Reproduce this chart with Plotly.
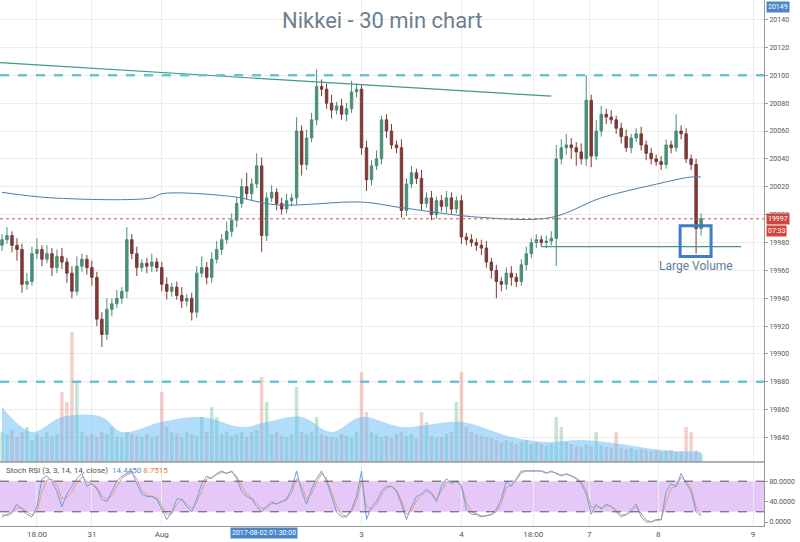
import plotly.graph_objects as go

# ---- data (30 min candles, index = bar number) ----
closes = [19982, 19985, 19978, 19975, 19950, 19952, 19972, 19975, 19968, 19972,
          19962, 19970, 19966, 19958, 19945, 19963, 19968, 19962, 19955, 19925,
          19914, 19932, 19936, 19940, 19945, 19982, 19972, 19962, 19965, 19963,
          19966, 19962, 19950, 19945, 19948, 19942, 19938, 19940, 19930, 19958,
          19962, 19955, 19968, 19975, 19982, 19988, 19996, 20008, 20020, 20015,
          20022, 20035, 19985, 20012, 20016, 20008, 20004, 20010, 20012, 20060,
          20036, 20055, 20068, 20092, 20090, 20080, 20075, 20078, 20072, 20076,
          20088, 20090, 20048, 20025, 20035, 20040, 20068, 20060, 20050, 20048,
          20003, 20022, 20030, 20026, 20008, 20012, 20000, 20010, 20006, 20012,
          20004, 20010, 19984, 19982, 19980, 19978, 19976, 19966, 19960, 19952,
          19950, 19958, 19955, 19952, 19964, 19972, 19980, 19982, 19980, 19981,
          19983, 20040, 20048, 20050, 20048, 20045, 20040, 20082, 20042, 20060,
          20072, 20070, 20068, 20062, 20056, 20048, 20055, 20058, 20050, 20044,
          20040, 20038, 20036, 20050, 20048, 20060, 20058, 20040, 20036, 19990,
          19997]
first_open = 19978
hi_wick = [4, 6, 3, 5, 4, 6, 5, 8, 3, 6, 4, 5, 6, 3, 5, 7, 4, 3, 5, 4,
           5, 8, 4, 6, 3, 9, 4, 5, 3, 4, 6, 3, 4, 5, 3, 4, 6, 3, 4, 5,
           8, 4, 5, 6, 4, 7, 5, 4, 6, 10, 4, 9, 6, 4, 5, 3, 4, 5, 3, 10,
           4, 6, 5, 12, 5, 4, 6, 3, 5, 4, 8, 4, 3, 5, 4, 6, 3, 4, 5, 3,
           6, 4, 5, 3, 6, 4, 5, 3, 4, 5, 4, 3, 4, 3, 4, 3, 4, 5, 3, 4,
           3, 4, 5, 3, 4, 5, 3, 4, 3, 4, 5, 10, 6, 8, 5, 4, 6, 18, 4, 8,
           6, 4, 5, 3, 4, 5, 3, 4, 5, 3, 4, 3, 4, 4, 3, 12, 4, 4, 3, 4, 4]
lo_wick = [4, 3, 5, 8, 6, 4, 3, 4, 5, 3, 6, 4, 5, 7, 5, 3, 4, 5, 6, 5,
           9, 4, 5, 3, 4, 5, 4, 6, 3, 5, 4, 3, 5, 6, 4, 3, 5, 4, 6, 4,
           3, 5, 4, 3, 4, 3, 4, 5, 3, 4, 5, 3, 12, 4, 3, 5, 4, 3, 4, 5,
           8, 4, 3, 4, 5, 4, 6, 3, 4, 5, 3, 4, 5, 8, 4, 3, 4, 5, 3, 4,
           5, 4, 3, 4, 5, 3, 4, 3, 4, 5, 4, 3, 5, 4, 3, 4, 5, 4, 6, 12,
           5, 4, 6, 4, 3, 4, 3, 4, 3, 4, 3, 20, 4, 5, 8, 10, 4, 5, 8, 3,
           4, 5, 3, 4, 5, 3, 4, 3, 4, 5, 4, 3, 4, 3, 4, 3, 4, 3, 4, 18, 5]
volume = [30, 28, 32, 25, 30, 35, 22, 28, 25, 30, 26, 28, 70, 60, 130, 80, 30, 26, 28, 25,
          30, 28, 35, 25, 24, 30, 28, 26, 25, 28, 24, 26, 70, 35, 30, 28, 25, 30, 28, 26,
          45, 30, 55, 45, 28, 30, 26, 28, 30, 25, 30, 32, 85, 60, 28, 30, 26, 25, 28, 75,
          30, 28, 30, 45, 28, 26, 25, 24, 28, 26, 24, 30, 90, 50, 30, 28, 25, 26, 24, 28,
          30, 26, 28, 24, 50, 40, 26, 24, 25, 28, 30, 60, 90, 35, 30, 28, 26, 25, 24, 22,
          20, 22, 20, 18, 20, 22, 18, 20, 18, 16, 18, 45, 35, 20, 18, 16, 15, 18, 16, 30,
          16, 15, 14, 30, 14, 13, 14, 12, 13, 12, 11, 12, 10, 11, 12, 10, 11, 35, 30, 12, 8]
vol_ma_x = [0, 6, 12, 20, 24, 32, 40, 48, 53, 60, 66, 72, 80, 92, 102, 109, 116, 124, 132, 140]
vol_ma = [55, 30, 45, 45, 30, 40, 45, 35, 40, 45, 30, 45, 35, 40, 25, 20, 22, 18, 12, 10]
ma_x = [0, 10, 30, 32, 46, 55, 72, 80, 96, 110, 120, 130, 138, 140]
ma = [20016, 20012, 20012, 20015, 20013, 20007, 20009, 20005, 19998, 19998, 20012, 20021, 20027, 20027]
stoch_k = [10, 15, 20, 35, 25, 15, 10, 30, 85, 90, 80, 60, 30, 55, 70, 85, 95, 70, 75, 65,
           45, 40, 60, 80, 90, 95, 100, 75, 55, 50, 50, 45, 25, 5, 20, 45, 45, 30, 20, 45,
           75, 90, 85, 95, 100, 95, 100, 85, 60, 50, 45, 30, 20, 30, 40, 35, 40, 45, 65, 100,
           60, 35, 65, 85, 100, 80, 50, 20, 10, 10, 25, 50, 100, 5, 30, 40, 60, 70, 70, 60,
           35, 5, 30, 50, 55, 65, 55, 40, 70, 85, 75, 80, 70, 25, 15, 15, 10, 12, 15, 25,
           45, 80, 70, 85, 100, 100, 100, 100, 100, 95, 100, 95, 90, 95, 90, 85, 75, 55, 15, 35,
           25, 35, 30, 20, 10, 15, 25, 35, 10, 0, 0, 5, 5, 60, 75, 70, 95, 75, 60, 20, 12]
stoch_d = [15, 12, 17, 28, 28, 20, 14, 22, 60, 82, 84, 72, 45, 48, 60, 76, 88, 80, 74, 68,
           52, 44, 52, 70, 86, 92, 96, 85, 62, 53, 50, 47, 32, 15, 16, 35, 44, 36, 26, 38,
           62, 84, 88, 92, 97, 96, 98, 90, 70, 55, 47, 36, 26, 28, 36, 36, 39, 43, 56, 85,
           70, 45, 55, 78, 95, 85, 58, 32, 15, 12, 20, 42, 80, 30, 25, 35, 52, 66, 70, 63,
           42, 15, 22, 42, 52, 60, 58, 45, 60, 78, 78, 78, 72, 38, 20, 16, 12, 12, 14, 20,
           36, 68, 72, 82, 96, 100, 100, 100, 100, 97, 98, 96, 92, 93, 91, 87, 78, 62, 28, 30,
           28, 32, 31, 24, 14, 14, 20, 30, 18, 4, 1, 3, 4, 40, 66, 70, 88, 80, 65, 30, 15]

x_ticks = [7, 18, 32, 72, 92, 106.4, 117.6, 131.4, 150.4]
x_labels = ['18:00', '31', 'Aug', '3', '4', '18:00', '7', '8', '9']
price_ticks = list(range(19820, 20141, 20))
levels = [20100, 19880]
trend_x, trend_y = [-0.4, 110], [20109, 20085]
support_x, support_y = [108, 148], [19977, 19977]
last_price = 19997

idx = list(range(len(closes)))
opens = [first_open] + closes[:-1]
highs = [max(o, c) + w for o, c, w in zip(opens, closes, hi_wick)]
lows = [min(o, c) - w for o, c, w in zip(opens, closes, lo_wick)]
vol_colors = ['rgba(90,180,130,0.35)' if c >= o else 'rgba(220,120,110,0.35)'
              for o, c in zip(opens, closes)]

grid = '#ececec'
split = 0.1217
fig = go.Figure()

fig.add_trace(go.Bar(x=idx, y=volume, marker_color=vol_colors, marker_line_width=0,
                     width=0.7, yaxis='y3', hoverinfo='skip'))
fig.add_trace(go.Scatter(x=vol_ma_x, y=vol_ma, mode='lines', line=dict(color='#7cc4f2', width=0, shape='spline'),
                         fill='tozeroy', fillcolor='rgba(100,185,245,0.5)', yaxis='y3', hoverinfo='skip'))
fig.add_trace(go.Scatter(x=ma_x, y=ma, mode='lines', line=dict(color='#4d7ea8', width=1, shape='spline')))
fig.add_trace(go.Scatter(x=trend_x, y=trend_y, mode='lines', line=dict(color='#3a9a8c', width=1.2)))
fig.add_trace(go.Scatter(x=support_x, y=support_y, mode='lines', line=dict(color='#3a9a8c', width=1.2)))
fig.add_trace(go.Candlestick(x=idx, open=opens, high=highs, low=lows, close=closes,
                             increasing=dict(line=dict(color='#4a8f78', width=1), fillcolor='#4a8f78'),
                             decreasing=dict(line=dict(color='#7d3a36', width=1), fillcolor='#7d3a36'),
                             whiskerwidth=0))
fig.add_trace(go.Scatter(x=idx, y=stoch_d, mode='lines', line=dict(color='#e0a070', width=1), yaxis='y2'))
fig.add_trace(go.Scatter(x=idx, y=stoch_k, mode='lines', line=dict(color='#6a9fe0', width=1), yaxis='y2'))

for lv in levels:
    fig.add_hline(y=lv, line=dict(color='#6cc4d0', width=2.5, dash='dash'))
fig.add_hline(y=last_price, line=dict(color='#d05050', width=1, dash='dot'))

# stoch rsi band
fig.add_shape(type='rect', xref='paper', yref='y2', x0=0, x1=1, y0=20, y1=80,
              fillcolor='#e6c8f8', line_width=0, layer='below')
for lv in [80, 20]:
    fig.add_shape(type='line', xref='paper', yref='y2', x0=0, x1=1, y0=lv, y1=lv,
                  line=dict(color='#555', width=1, dash='dash'))
fig.add_shape(type='line', xref='paper', yref='paper', x0=0, x1=1, y0=split, y1=split,
              line=dict(color='#999', width=1.5))
# large volume box
fig.add_shape(type='rect', xref='x', yref='y', x0=135.8, x1=142, y0=19970, y1=19992,
              line=dict(color='#3d7fc4', width=3))

fig.add_annotation(x=139, y=19963, text='Large Volume', showarrow=False,
                   font=dict(size=12, color='#607d99'))
fig.add_annotation(x=0.5, y=1.0, xref='paper', yref='paper', yanchor='top', xanchor='center',
                   text='Nikkei - 30 min chart', showarrow=False,
                   font=dict(size=22, color='#6d7f8f'), yshift=-6)
fig.add_annotation(x=0.005, y=split - 0.003, xref='paper', yref='paper', xanchor='left', yanchor='top',
                   text='Stoch RSI (3, 3, 14, 14, close)  <span style="color:#4a8fd0">14.4450</span> '
                        '<span style="color:#e08030">8.7515</span>',
                   showarrow=False, font=dict(size=8, color='#555'))
for txt, yv, bg in [('20149', 20149, '#4a86c8'), ('19997', last_price, '#d0463c')]:
    fig.add_annotation(x=1.0, y=yv, xref='paper', yref='y', xanchor='left', text=txt, xshift=2,
                       showarrow=False, bgcolor=bg, font=dict(size=7, color='white'), borderpad=1)
fig.add_annotation(x=1.0, y=last_price - 9, xref='paper', yref='y', xanchor='left', text='07:33', xshift=2,
                   showarrow=False, bgcolor='#d0463c', font=dict(size=7, color='white'), borderpad=1)
fig.add_annotation(x=52.4, y=0, xref='x', yref='paper', yanchor='top', text='2017-08-02 01:30:00',
                   showarrow=False, bgcolor='#4a86c8', font=dict(size=7, color='white'), yshift=-1)

fig.update_layout(
    width=800, height=542, margin=dict(l=0, r=36, t=0, b=16),
    paper_bgcolor='white', plot_bgcolor='white', showlegend=False,
    font=dict(family='Roboto', size=7, color='#555'),
    xaxis=dict(range=[-0.4, 152.6], tickvals=x_ticks, ticktext=x_labels, showgrid=True,
               gridcolor=grid, zeroline=False, rangeslider=dict(visible=False), ticklen=0,
               anchor='y2', showline=True, linecolor='#999', tickfont=dict(size=8)),
    yaxis=dict(domain=[split, 1], range=[19822.5, 20154], side='right', tickvals=price_ticks,
               tickformat='d', gridcolor=grid, zeroline=False, showline=True, linecolor='#999',
               ticklen=3, ticks='outside', tickcolor='#999'),
    yaxis2=dict(domain=[0, split], range=[-7.8, 117.6], side='right', tickvals=[0, 40, 80],
                ticktext=['0.0000', '40.0000', '80.0000'], showgrid=False, zeroline=False,
                showline=True, linecolor='#999', ticklen=3, ticks='outside', tickcolor='#999'),
    yaxis3=dict(overlaying='y', range=[0, 462], visible=False),
    bargap=0.3,
)

fig.write_html("out.html", config={'displayModeBar': False},
               post_script="document.body.style.margin='0';")
